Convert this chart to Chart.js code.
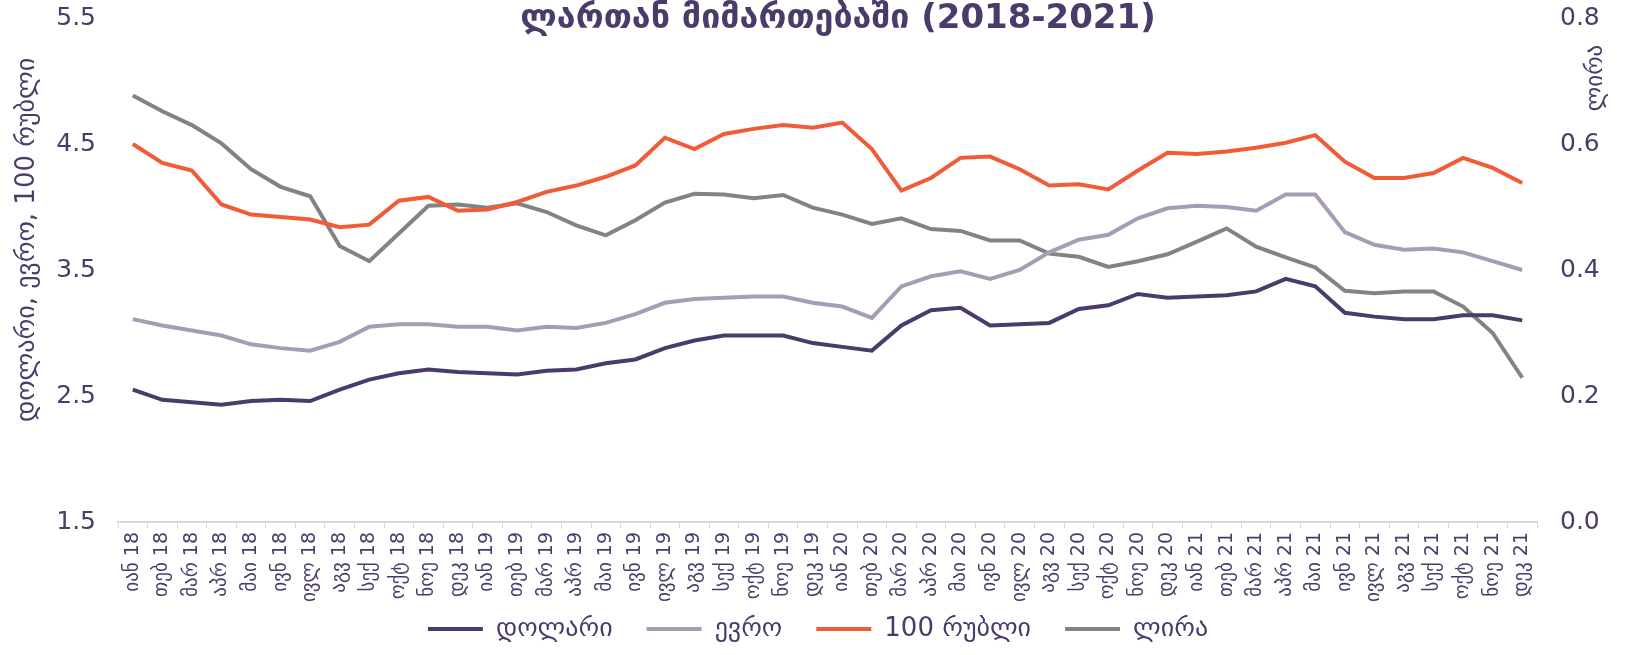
<!DOCTYPE html>
<html>
<head>
<meta charset="utf-8">
<script src="https://cdn.jsdelivr.net/npm/chart.js@4.4.1/dist/chart.umd.min.js"></script>
<style>
  html, body { margin: 0; padding: 0; background: #fff; }
</style>
</head>
<body>
<canvas id="rates" width="1636" height="655"></canvas>
<script>
// months and years used for the category labels
const months = ['იან', 'თებ', 'მარ', 'აპრ', 'მაი', 'ივნ', 'ივლ', 'აგვ', 'სექ', 'ოქტ', 'ნოე', 'დეკ'];
const years = ['18', '19', '20', '21'];

// series (left axis)
const dollar = [2.55, 2.47, 2.45, 2.43, 2.46, 2.47, 2.46, 2.55, 2.63, 2.68,
  2.71, 2.69, 2.68, 2.67, 2.70, 2.71, 2.76, 2.79, 2.88, 2.94,
  2.98, 2.98, 2.98, 2.92, 2.89, 2.86, 3.06, 3.18, 3.20, 3.06,
  3.07, 3.08, 3.19, 3.22, 3.31, 3.28, 3.29, 3.30, 3.33, 3.43,
  3.37, 3.16, 3.13, 3.11, 3.11, 3.14, 3.14, 3.10];
const euro = [3.11, 3.06, 3.02, 2.98, 2.91, 2.88, 2.86, 2.93, 3.05, 3.07,
  3.07, 3.05, 3.05, 3.02, 3.05, 3.04, 3.08, 3.15, 3.24, 3.27,
  3.28, 3.29, 3.29, 3.24, 3.21, 3.12, 3.37, 3.45, 3.49, 3.43,
  3.50, 3.64, 3.74, 3.78, 3.91, 3.99, 4.01, 4.00, 3.97, 4.10,
  4.10, 3.80, 3.70, 3.66, 3.67, 3.64, 3.57, 3.50];
const ruble = [4.50, 4.35, 4.29, 4.02, 3.94, 3.92, 3.90, 3.84, 3.86, 4.05,
  4.08, 3.97, 3.98, 4.04, 4.12, 4.17, 4.24, 4.33, 4.55, 4.46,
  4.58, 4.62, 4.65, 4.63, 4.67, 4.46, 4.13, 4.23, 4.39, 4.40,
  4.30, 4.17, 4.18, 4.14, 4.29, 4.43, 4.42, 4.44, 4.47, 4.51,
  4.57, 4.36, 4.23, 4.23, 4.27, 4.39, 4.31, 4.19];
// lira is on the right axis
const lira = [0.677, 0.652, 0.630, 0.601, 0.560, 0.532, 0.517, 0.438, 0.414, 0.458,
  0.502, 0.504, 0.499, 0.506, 0.492, 0.471, 0.455, 0.479, 0.507, 0.521,
  0.520, 0.514, 0.519, 0.499, 0.488, 0.473, 0.482, 0.465, 0.462, 0.447,
  0.447, 0.426, 0.421, 0.405, 0.414, 0.425, 0.445, 0.466, 0.437, 0.420,
  0.404, 0.367, 0.363, 0.366, 0.366, 0.342, 0.300, 0.229];

const leftTicks = [1.5, 2.5, 3.5, 4.5, 5.5];
const rightTicks = [0.0, 0.2, 0.4, 0.6, 0.8];
const seriesNames = ['დოლარი', 'ევრო', '100 რუბლი', 'ლირა'];
const titleText = 'ლართან მიმართებაში (2018-2021)';
const leftTitle = 'დოლარი, ევრო, 100 რუბლი';
const rightTitle = 'ლირა';

const textColor = '#4a3b6b';
const labels = [];
years.forEach(y => months.forEach(m => labels.push(m + ' ' + y)));

Chart.defaults.font.family = '"DejaVu Sans", sans-serif';
Chart.defaults.color = textColor;

// chart title and axis titles sit where the original puts them
const textPlugin = {
    id: 'texts',
    afterLayout(chart) {
        // legend keeps its wide item spacing but sits just under the tick labels
        chart.legend.top = 582;
    },
    afterDraw(chart) {
        const ctx = chart.ctx;
        ctx.save();
        ctx.fillStyle = textColor;
        ctx.textAlign = 'center';
        ctx.textBaseline = 'alphabetic';
        ctx.font = 'bold 34px "DejaVu Sans"';
        ctx.fillText(titleText, 838, 28);

        ctx.textBaseline = 'middle';
        ctx.font = '26px "DejaVu Sans"';
        ctx.save();
        ctx.translate(27, 240);
        ctx.rotate(-Math.PI / 2);
        ctx.fillText(leftTitle, 0, 0);
        ctx.restore();

        ctx.font = '23px "DejaVu Sans"';
        ctx.save();
        ctx.translate(1596, 78);
        ctx.rotate(-Math.PI / 2);
        ctx.fillText(rightTitle, 0, 0);
        ctx.restore();
        ctx.restore();
    }
};

function line(label, data, color, axis) {
    return {
        label: label,
        data: data,
        borderColor: color,
        backgroundColor: color,
        borderWidth: 4,
        pointRadius: 0,
        tension: 0,
        yAxisID: axis
    };
}

// value axes: fixed width, and no extra room above the top tick
function fixAxis(width) {
    return scale => {
        scale.width = width;
        scale.paddingTop = 0;
        scale.paddingBottom = 0;
    };
}

new Chart(document.getElementById('rates'), {
    type: 'line',
    data: {
        labels: labels,
        datasets: [
            line(seriesNames[0], dollar, '#4b3a6e', 'y'),
            line(seriesNames[1], euro, '#a79bb6', 'y'),
            line(seriesNames[2], ruble, '#f15b37', 'y'),
            line(seriesNames[3], lira, '#838383', 'y1')
        ]
    },
    options: {
        responsive: false,
        animation: false,
        devicePixelRatio: 1,
        layout: { padding: { top: 18, left: 0, right: 0, bottom: 0 } },
        plugins: {
            title: { display: false },
            tooltip: { enabled: false },
            legend: {
                position: 'bottom',
                maxHeight: 53,
                labels: {
                    usePointStyle: true,
                    pointStyle: 'line',
                    pointStyleWidth: 55,
                    padding: 34,
                    font: { size: 26 },
                    color: textColor
                }
            }
        },
        scales: {
            x: {
                offset: true,
                grid: {
                    offset: true,
                    drawOnChartArea: false,
                    drawTicks: true,
                    tickLength: 6,
                    color: '#d9d9d9'
                },
                border: { display: true, color: '#d9d9d9', width: 2 },
                ticks: {
                    autoSkip: false,
                    minRotation: 90,
                    maxRotation: 90,
                    padding: 4,
                    font: { size: 19 },
                    color: textColor
                },
                afterFit(scale) { scale.height = 80; }
            },
            y: {
                position: 'left',
                min: 1.5,
                max: 5.5,
                grid: { display: false, drawTicks: false },
                border: { display: false },
                afterBuildTicks(scale) { scale.ticks = leftTicks.map(v => ({ value: v })); },
                ticks: {
                    padding: 22,
                    font: { size: 25 },
                    color: textColor,
                    callback: v => v.toFixed(1)
                },
                afterFit: fixAxis(118)
            },
            y1: {
                position: 'right',
                min: 0,
                max: 0.8,
                grid: { display: false, drawTicks: false },
                border: { display: false },
                afterBuildTicks(scale) { scale.ticks = rightTicks.map(v => ({ value: v })); },
                ticks: {
                    padding: 23,
                    font: { size: 25 },
                    color: textColor,
                    callback: v => v.toFixed(1)
                },
                afterFit: fixAxis(99)
            }
        }
    },
    plugins: [textPlugin]
});
</script>
</body>
</html>
